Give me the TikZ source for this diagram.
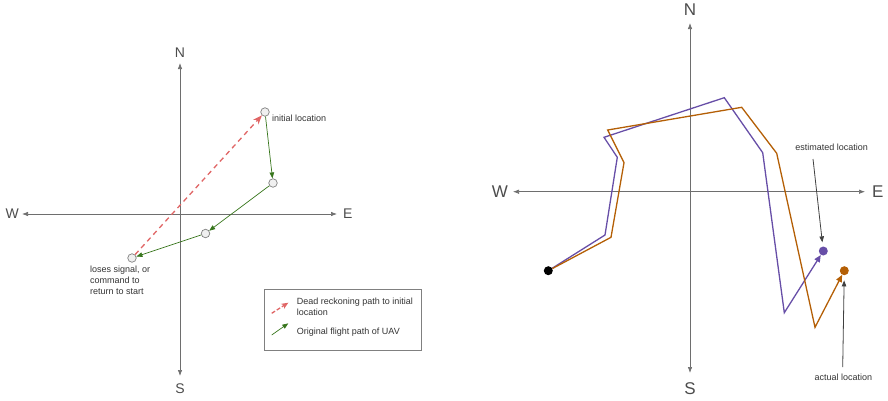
\documentclass[tikz,border=0pt]{standalone}
\usepackage{fontspec}
\setmainfont{Liberation Sans}
\usepackage{xcolor}
\usetikzlibrary{arrows.meta,positioning}
\definecolor{deadred}{HTML}{E06666}
\definecolor{flightgreen}{HTML}{38761D}
\definecolor{estpurple}{HTML}{674EA7}
\definecolor{actorange}{HTML}{B45F06}
\definecolor{axgray}{HTML}{6E6E6E}
\tikzset{
  axis/.style={{Latex[length=6pt,width=4.5pt]}-{Latex[length=6pt,width=4.5pt]},axgray,line width=0.7pt},
  dir/.style={font=\fontsize{#1}{#1}\selectfont,text=black!70,inner sep=0pt},
  wp/.style={circle,draw=gray,fill=gray!12,inner sep=0pt,minimum size=8.5pt,line width=0.7pt},
  dot/.style={circle,fill=#1,inner sep=0pt,minimum size=9pt},
  reckon/.style={deadred,line width=1.3pt,dash pattern=on 5pt off 4pt,-{Stealth[open,length=9pt,width=7pt]}},
  flight/.style={flightgreen,line width=0.7pt,-{Triangle[length=6pt,width=4.5pt]}},
  lbl/.style={font=\fontsize{9}{11}\selectfont,text=black!80,inner sep=0pt,align=left},
  track/.style={line width=1.3pt,line join=miter,-{Triangle[length=7pt,width=6pt]}},
  pointer/.style={black!75,line width=0.8pt,-{Triangle[length=6pt,width=4.5pt]}},
  legendbox/.style={draw=gray,line width=0.7pt,minimum width=157pt,minimum height=61pt}
}

\begin{document}
\begin{tikzpicture}[x=1pt,y=-1pt]
\useasboundingbox (0,0) rectangle (888,400);
% left: dead reckoning back to start
\coordinate (lN) at (180,63); \coordinate (lS) at (180,376);
\coordinate (lW) at (22,214); \coordinate (lE) at (337,214);
\draw[axis] (lN) -- (lS); \draw[axis] (lW) -- (lE);
\node[dir=14,above=5pt of lN] {N}; \node[dir=14,below=8pt of lS] {S};
\node[dir=14,left=3pt of lW] {W}; \node[dir=14,right=6pt of lE] {E};
\node[wp] (init) at (265,112) {};
\node[wp] (p2) at (273,183) {};
\node[wp] (p3) at (205.5,233.5) {};
\node[wp] (lost) at (132,258) {};
\draw[reckon] (lost) -- (init);
\draw[flight] (init) -- (p2);
\draw[flight] (p2) -- (p3);
\draw[flight] (p3) -- (lost);
\node[lbl,anchor=west] (initlbl) at (272,118) {initial location};
\node[lbl,anchor=north west] (lostlbl) at (90,265.5) {loses signal, or\\command to\\return to start};
% legend
\node[legendbox] (legend) at (343,319.7) {};
\coordinate (r0) at (271.7,313.3); \coordinate (r1) at (288.3,302.7);
\coordinate (g0) at (271.7,335); \coordinate (g1) at (288.3,323.3);
\draw[reckon,dash pattern=on 4pt off 2pt,-{Stealth[open,length=7pt,width=6pt]}] (r0) -- (r1);
\draw[flight] (g0) -- (g1);
\node[lbl,anchor=north west] (deadlbl) at (296.7,298) {Dead reckoning path to initial\\location};
\node[lbl,anchor=west] (origlbl) at (296.7,331.7) {Original flight path of UAV};
% right: estimated vs actual track
\coordinate (rN) at (690,23); \coordinate (rS) at (690,373);
\coordinate (rW) at (513,191.7); \coordinate (rE) at (865,191.7);
\draw[axis] (rN) -- (rS); \draw[axis] (rW) -- (rE);
\node[dir=17,above=7pt of rN] {N}; \node[dir=17,below=9pt of rS] {S};
\node[dir=17,left=5pt of rW] {W}; \node[dir=17,right=7pt of rE] {E};
\node[dot=black] (start) at (548.3,270.7) {};
\node[dot=estpurple] (est) at (823.3,251) {};
\node[dot=actorange] (act) at (844.3,270.7) {};
\draw[track,estpurple] (start) -- (605,235) -- (617.3,157.3) -- (604,137.3) -- (724.3,97.7)
  -- (762.7,152.7) -- (784.3,312.7) -- (est);
\draw[track,actorange] (start) -- (611,237.3) -- (624,162.7) -- (607.7,130) -- (741.7,107.3)
  -- (776.7,153.3) -- (815,327.3) -- (act);
\node[lbl] (estlbl) at (831.7,147.7) {estimated location};
\node[lbl] (actlbl) at (843.3,377.3) {actual location};
\coordinate (esttail) at (813,159); \coordinate (acttail) at (842.7,367);
\draw[pointer,shorten >=4pt] (esttail) -- (est);
\draw[pointer,shorten >=5pt] (acttail) -- (act);
\end{tikzpicture}
\end{document}
